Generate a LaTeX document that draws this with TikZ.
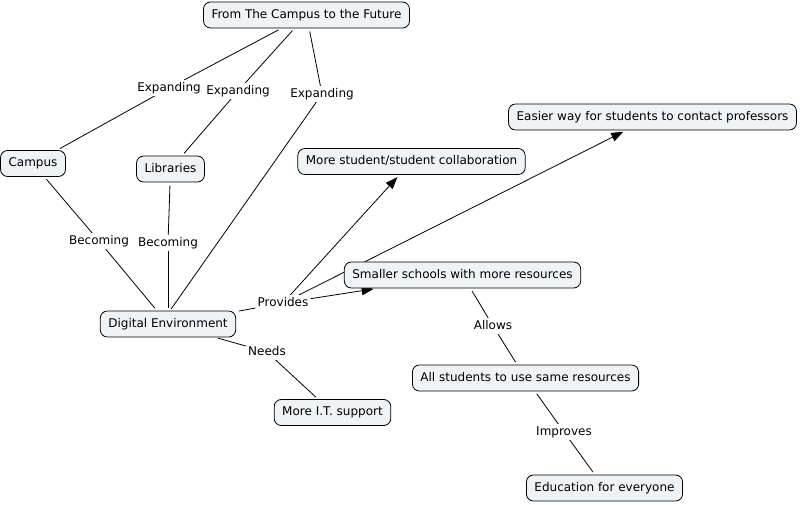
\documentclass[tikz,border=0pt]{standalone}
\usepackage{fontspec}
\setmainfont{DejaVu Sans}
\usetikzlibrary{arrows.meta,backgrounds}
\definecolor{boxfill}{RGB}{237,243,246}
\begin{document}
\begin{tikzpicture}[x=1pt,y=-1pt,font=\fontsize{12}{14}\selectfont,
  concept/.style={draw=black,line width=0.8pt,fill=boxfill,rounded corners=7pt,minimum height=26pt,inner xsep=8pt,inner ysep=0pt,text height=9pt,text depth=2.5pt},
  lbl/.style={fill=white,inner sep=2pt,text height=9pt,text depth=2.5pt},
  link/.style={draw=black,line width=0.8pt},
  tolbl/.style={link,shorten <=3pt},
  fromlbl/.style={link,shorten >=3pt},
  arr/.style={link,-{Triangle[length=12pt,width=9pt]},shorten >=3pt}]
\useasboundingbox (0,0) rectangle (800,505);
% concepts
\node[concept] (title) at (306.5,15) {From The Campus to the Future};
\node[concept] (campus) at (33,163.5) {Campus};
\node[concept] (lib) at (170.5,169) {Libraries};
\node[concept] (collab) at (411.5,161.5) {More student/student collaboration};
\node[concept] (easier) at (652.5,117) {Easier way for students to contact professors};
\node[concept] (smaller) at (462.5,275) {Smaller schools with more resources};
\node[concept] (de) at (168,324) {Digital Environment};
\node[concept] (it) at (332.5,412.5) {More I.T. support};
\node[concept] (all) at (525.5,378) {All students to use same resources};
\node[concept] (edu) at (604.5,488) {Education for everyone};
% linking phrases
\node[lbl] (exp1) at (169,88) {Expanding};
\node[lbl] (exp2) at (238,91) {Expanding};
\node[lbl] (exp3) at (322,94) {Expanding};
\node[lbl] (bec1) at (99,241) {Becoming};
\node[lbl] (bec2) at (168,243) {Becoming};
\node[lbl] (prov) at (283,303) {Provides};
\node[lbl] (needs) at (267,352) {Needs};
\node[lbl] (allows) at (493,326) {Allows};
\node[lbl] (impr) at (564,432) {Improves};
\begin{scope}[on background layer]
\draw[tolbl] (title) -- (exp1);
\draw[fromlbl] (exp1) -- (campus);
\draw[tolbl] (title) -- (exp2);
\draw[fromlbl] (exp2) -- (lib);
\draw[tolbl] (title) -- (exp3);
\draw[link,shorten >=2pt] (exp3) -- ([xshift=2pt]de.north);
\draw[tolbl] (campus) -- (bec1);
\draw[fromlbl] (bec1) -- (de);
\draw[tolbl] (lib) -- (bec2);
\draw[fromlbl] (bec2) -- (de);
\draw[tolbl] (de) -- (prov);
\draw[arr] (prov) -- (collab);
\draw[arr] (prov) -- (easier);
\draw[arr] (prov) -- (smaller);
\draw[tolbl] (de) -- (needs);
\draw[fromlbl] (needs) -- (it);
\draw[tolbl] (smaller) -- (allows);
\draw[fromlbl] (allows) -- (all);
\draw[tolbl] (all) -- (impr);
\draw[fromlbl] (impr) -- (edu);
\end{scope}
\end{tikzpicture}
\end{document}
